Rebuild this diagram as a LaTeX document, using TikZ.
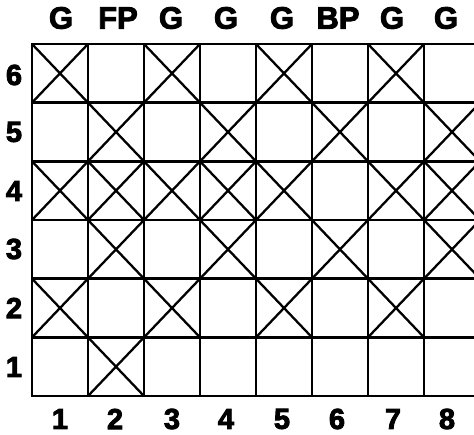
\documentclass[tikz,border=0pt]{standalone}
\usepackage{fontspec}
\setmainfont{Liberation Sans}
\newfontfamily\heavyfont{Liberation Sans Bold}[FakeBold=3]
\begin{document}
\begin{tikzpicture}[x=1pt,y=-1pt,
  gridline/.style={line width=2.8pt},
  crossline/.style={line width=2.3pt},
  toplab/.style={font=\heavyfont\fontsize{31}{31}\selectfont, inner sep=0pt, anchor=center},
  numlab/.style={font=\heavyfont\fontsize{29}{29}\selectfont, inner sep=0pt, anchor=center}]
\useasboundingbox (0,0) rectangle (474,435);
\begin{scope}
\clip (0,0) rectangle (474,435);
% crosses
\foreach \c/\r in {1/6,3/6,5/6,7/6, 2/5,4/5,6/5,8/5, 1/4,2/4,3/4,4/4,5/4,7/4,8/4, 2/3,4/3,6/3,8/3, 1/2,3/2,5/2,7/2, 2/1}{
  \pgfmathsetmacro{\xa}{32+56*(\c-1)}
  \pgfmathsetmacro{\xb}{32+56*\c}
  \pgfmathsetmacro{\ya}{44+58.67*(6-\r)}
  \pgfmathsetmacro{\yb}{44+58.67*(7-\r)}
  \draw[crossline] (\xa,\ya) -- (\xb,\yb);
  \draw[crossline] (\xa,\yb) -- (\xb,\ya);
}
% grid
\foreach \i in {0,...,8}{
  \draw[gridline] ({32+56*\i},44) -- ({32+56*\i},396);
}
\foreach \j in {0,...,6}{
  \draw[gridline] (31,{44+58.67*\j}) -- (480,{44+58.67*\j});
}
\end{scope}
% top labels
\node[toplab] (t1) at (61,18) {G};
\node[toplab] (t2) at (118,18) {FP};
\node[toplab] (t3) at (171,18) {G};
\node[toplab] (t4) at (226,18) {G};
\node[toplab] (t5) at (282,18) {G};
\node[toplab] (t6) at (338,18) {BP};
\node[toplab] (t7) at (392,18) {G};
\node[toplab] (t8) at (446,18) {G};
% bottom labels
\node[numlab] (b1) at (60,419) {1};
\node[numlab] (b2) at (115,419) {2};
\node[numlab] (b3) at (172,419) {3};
\node[numlab] (b4) at (226,419) {4};
\node[numlab] (b5) at (282,419) {5};
\node[numlab] (b6) at (337,419) {6};
\node[numlab] (b7) at (393,419) {7};
\node[numlab] (b8) at (447,419) {8};
% row labels
\node[numlab] (r6) at (14,75) {6};
\node[numlab] (r5) at (14,132) {5};
\node[numlab] (r4) at (14,191) {4};
\node[numlab] (r3) at (14,249) {3};
\node[numlab] (r2) at (14,308) {2};
\node[numlab] (r1) at (14,367) {1};
\end{tikzpicture}
\end{document}
